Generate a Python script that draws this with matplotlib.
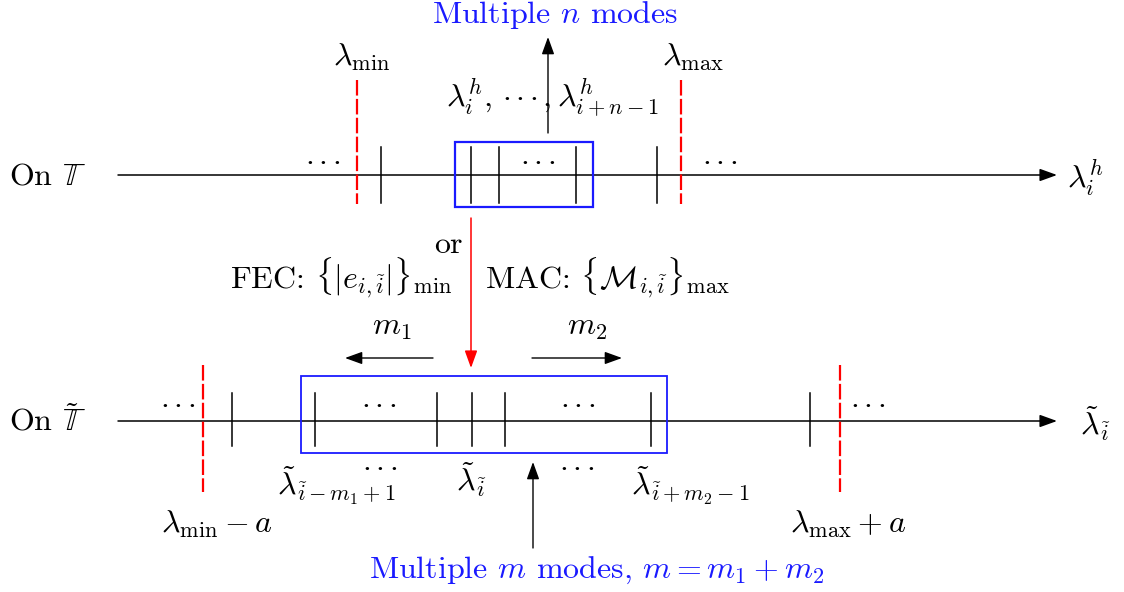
import matplotlib
matplotlib.use("Agg")
import matplotlib.pyplot as plt
from matplotlib.patches import Rectangle, FancyArrowPatch

plt.rcParams["mathtext.fontset"] = "cm"
plt.rcParams["font.family"] = ["serif"]
plt.rcParams["font.serif"] = ["cmr10", "DejaVu Serif"]
plt.rcParams["axes.formatter.use_mathtext"] = True

BLUE = "#1a1aff"
RED = "#ff0000"
FS = 23
DOTS = r"${\cdot}\,{\cdot}\,{\cdot}$"

# ---- layout of the two spectra (horizontal positions along each axis) ----
top_axis_y = 175
bottom_axis_y = 421
axis_start, axis_end = 118, 1057

top_ticks = [381, 471, 499, 576, 657]
top_bounds = [357, 681]                 # lambda_min, lambda_max
top_box = (455, 593)

bottom_ticks = [232, 315, 437, 472, 505, 651, 810]
bottom_bounds = [203, 840]              # lambda_min - a, lambda_max + a
bottom_box = (301, 667)

fig = plt.figure(figsize=(11.24, 5.92), dpi=100)
ax = fig.add_axes([0, 0, 1, 1])
ax.set_xlim(0, 1124)
ax.set_ylim(592, 0)
ax.axis("off")


def arrow(x0, y0, x1, y1, color="black", lw=1.0):
    a = FancyArrowPatch((x0, y0), (x1, y1),
                        arrowstyle="-|>,head_length=1.05,head_width=0.38",
                        mutation_scale=10, color=color, lw=lw,
                        shrinkA=0, shrinkB=0)
    ax.add_patch(a)


def txt(x, y, s, color="black", size=FS, ha="center", va="center"):
    ax.text(x, y, s, color=color, fontsize=size, ha=ha, va=va)


# ---------------- top spectrum ----------------
arrow(axis_start, top_axis_y, axis_end, top_axis_y, lw=1.1)
for x in top_ticks:
    ax.plot([x, x], [top_axis_y - 28, top_axis_y + 28], color="black", lw=1.1)
for x in top_bounds:
    ax.plot([x, x], [80, 204], color=RED, lw=1.6, ls=(0, (7, 1.5)))
ax.add_patch(Rectangle((top_box[0], 142), top_box[1] - top_box[0], 65,
                       fill=False, ec=BLUE, lw=1.6))

txt(48, 177, r"On $\mathbb{T}$")
txt(1085, 178, r"$\lambda_i^h$")
txt(323, 160, DOTS)
txt(538, 160, DOTS)
txt(720, 160, DOTS)
txt(362, 57, r"$\lambda_{\min}$")
txt(693, 57, r"$\lambda_{\max}$")
txt(552, 98, r"$\lambda_i^h,\,{\cdot}\,{\cdot}\,{\cdot}\,,\lambda_{i+n-1}^h$")
arrow(548, 133, 548, 37, lw=1.0)
txt(555, 15, r"Multiple $n$ modes", color=BLUE)

# ---------------- matching criterion ----------------
arrow(471, 218, 471, 368, color=RED, lw=1.1)
txt(448, 245, "or")
txt(341, 278, r"FEC: $\{|e_{i,\tilde{i}}|\}_{\min}$")
txt(608, 278, r"MAC: $\{\mathcal{M}_{i,\tilde{i}}\}_{\max}$")
txt(392, 328, r"$m_1$")
txt(587, 328, r"$m_2$")
arrow(433, 358, 345, 358, lw=1.0)
arrow(532, 358, 622, 358, lw=1.0)

# ---------------- bottom spectrum ----------------
arrow(axis_start, bottom_axis_y, axis_end, bottom_axis_y, lw=1.1)
for x in bottom_ticks:
    ax.plot([x, x], [bottom_axis_y - 28, bottom_axis_y + 25], color="black", lw=1.1)
for x in bottom_bounds:
    ax.plot([x, x], [365, 492], color=RED, lw=1.6, ls=(0, (7, 1.5)))
ax.add_patch(Rectangle((bottom_box[0], 376), bottom_box[1] - bottom_box[0], 77,
                       fill=False, ec=BLUE, lw=1.3))

txt(48, 421, r"On $\tilde{\mathbb{T}}$")
txt(1095, 424, r"$\tilde{\lambda}_{\tilde{i}}$")
for x in [178, 379, 578, 868]:
    txt(x, 403, DOTS)
for x in [380, 577]:
    txt(x, 466, DOTS)
txt(336, 486, r"$\tilde{\lambda}_{\tilde{i}-m_1+1}$")
txt(471, 480, r"$\tilde{\lambda}_{\tilde{i}}$")
txt(690, 486, r"$\tilde{\lambda}_{\tilde{i}+m_2-1}$")
txt(217, 524, r"$\lambda_{\min}-a$")
txt(848, 524, r"$\lambda_{\max}+a$")
arrow(533, 548, 533, 462, lw=1.0)
txt(597, 570, r"Multiple $m$ modes, $m=m_1+m_2$", color=BLUE)

fig.savefig("out.png", dpi=100, facecolor="white")
